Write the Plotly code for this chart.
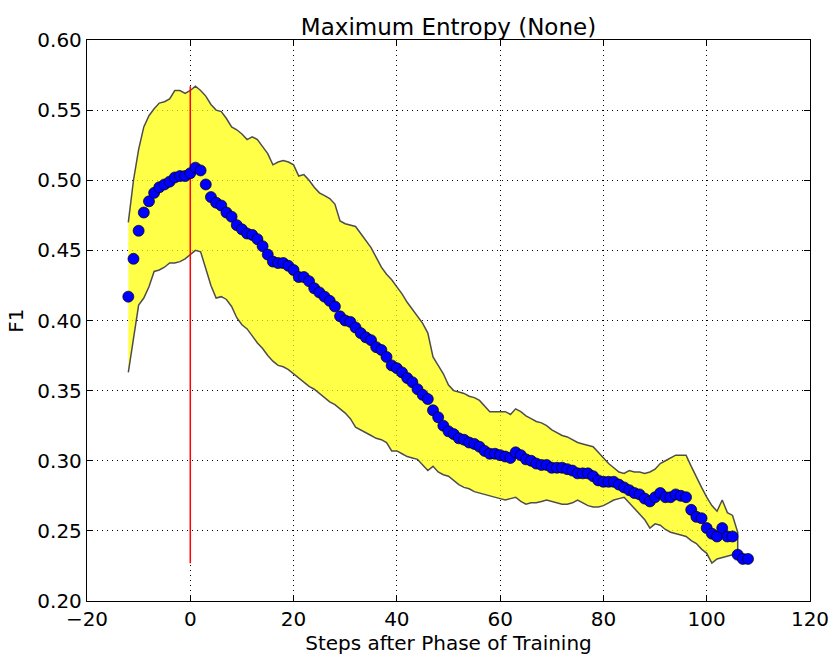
import plotly.graph_objects as go

steps = list(range(-12, 109))
f1_mean = [
    0.417, 0.444, 0.464, 0.477, 0.485, 0.491, 0.495, 0.497, 0.499, 0.502, 0.503, 0.503,
    0.505, 0.509, 0.507, 0.497, 0.488, 0.484, 0.482, 0.477, 0.474, 0.468, 0.465,
    0.462, 0.461, 0.458, 0.453, 0.447, 0.442, 0.441, 0.441, 0.439, 0.436,
    0.431, 0.431, 0.428, 0.423, 0.420, 0.417, 0.414, 0.410, 0.403, 0.400,
    0.399, 0.395, 0.391, 0.388, 0.386, 0.381, 0.379, 0.374, 0.368, 0.366,
    0.363, 0.359, 0.356, 0.351, 0.347, 0.344, 0.336, 0.331, 0.325, 0.321,
    0.319, 0.316, 0.315, 0.313, 0.312, 0.310, 0.307, 0.305, 0.305, 0.304,
    0.303, 0.302, 0.306, 0.304, 0.301, 0.300, 0.298, 0.297, 0.297, 0.295,
    0.295, 0.295, 0.294, 0.293, 0.291, 0.291, 0.291, 0.289, 0.286, 0.285,
    0.285, 0.285, 0.283, 0.281, 0.279, 0.277, 0.276, 0.273, 0.271, 0.274,
    0.277, 0.274, 0.274, 0.276, 0.275, 0.274, 0.265, 0.260, 0.259, 0.252,
    0.248, 0.246, 0.252, 0.246, 0.246, 0.233, 0.230, 0.230,
]

band_steps = list(range(-12, 107))
f1_upper = [
    0.470, 0.500, 0.522, 0.538, 0.546, 0.551, 0.555, 0.556, 0.558, 0.564, 0.564, 0.562,
    0.564, 0.567, 0.564, 0.560, 0.554, 0.550, 0.549, 0.544, 0.538, 0.536, 0.533,
    0.529, 0.531, 0.529, 0.524, 0.519, 0.511, 0.513, 0.514, 0.513, 0.511,
    0.503, 0.504, 0.500, 0.495, 0.491, 0.489, 0.487, 0.483, 0.471, 0.469,
    0.468, 0.467, 0.462, 0.457, 0.452, 0.445, 0.438, 0.433, 0.429, 0.424,
    0.419, 0.413, 0.408, 0.403, 0.398, 0.391, 0.374, 0.368, 0.362, 0.354,
    0.350, 0.349, 0.348, 0.346, 0.345, 0.343, 0.339, 0.335, 0.335, 0.335,
    0.335, 0.333, 0.337, 0.335, 0.332, 0.330, 0.328, 0.327, 0.325, 0.322,
    0.320, 0.318, 0.317, 0.315, 0.313, 0.312, 0.311, 0.310, 0.306, 0.302,
    0.298, 0.295, 0.292, 0.291, 0.293, 0.292, 0.292, 0.291, 0.292, 0.294,
    0.298, 0.300, 0.302, 0.304, 0.304, 0.304, 0.296, 0.288, 0.281, 0.274,
    0.268, 0.264, 0.272, 0.263, 0.261, 0.249,
]
f1_lower = [
    0.363, 0.387, 0.411, 0.416, 0.424, 0.435, 0.436, 0.438, 0.441, 0.441, 0.442, 0.444,
    0.447, 0.450, 0.449, 0.437, 0.425, 0.416, 0.417, 0.415, 0.410, 0.402, 0.397,
    0.394, 0.389, 0.384, 0.380, 0.375, 0.371, 0.368, 0.367, 0.365, 0.362,
    0.359, 0.356, 0.353, 0.351, 0.348, 0.345, 0.342, 0.340, 0.337, 0.334,
    0.330, 0.324, 0.322, 0.320, 0.318, 0.316, 0.315, 0.313, 0.307, 0.307,
    0.305, 0.303, 0.302, 0.301, 0.297, 0.293, 0.296, 0.292, 0.290, 0.289,
    0.286, 0.283, 0.281, 0.280, 0.278, 0.277, 0.276, 0.275, 0.274, 0.273,
    0.272, 0.273, 0.274, 0.271, 0.269, 0.270, 0.270, 0.271, 0.272, 0.271,
    0.270, 0.269, 0.269, 0.270, 0.272, 0.270, 0.268, 0.267, 0.267, 0.268,
    0.270, 0.272, 0.273, 0.274, 0.270, 0.266, 0.262, 0.258, 0.252, 0.255,
    0.254, 0.251, 0.249, 0.248, 0.247, 0.246, 0.243, 0.241, 0.237, 0.234,
    0.227, 0.230, 0.231, 0.232, 0.233, 0.233,
]

x_ticks = [-20, 0, 20, 40, 60, 80, 100, 120]
y_ticks = [0.20, 0.25, 0.30, 0.35, 0.40, 0.45, 0.50, 0.55, 0.60]

FONT = "DejaVu Sans, Verdana, sans-serif"

fig = go.Figure()

fig.add_trace(go.Scatter(
    x=band_steps + band_steps[::-1],
    y=f1_upper + f1_lower[::-1],
    fill="toself",
    fillcolor="rgba(255,255,0,0.72)",
    line=dict(color="#4d4d4d", width=1.5),
    mode="lines",
    hoverinfo="skip",
    showlegend=False,
))

fig.add_trace(go.Scatter(
    x=[0, 0],
    y=[min(f1_lower), max(f1_upper)],
    mode="lines",
    line=dict(color="red", width=1.5),
    showlegend=False,
))

fig.add_trace(go.Scatter(
    x=steps,
    y=f1_mean,
    mode="markers",
    marker=dict(color="#0000ff", size=11, line=dict(color="black", width=0.7)),
    showlegend=False,
))

axis_common = dict(
    showline=True, linecolor="black", linewidth=1.3, mirror="ticks",
    ticks="inside", ticklen=6, tickcolor="black", tickwidth=1,
    showgrid=True, gridcolor="black", gridwidth=1, griddash="1px,4px",
    zeroline=False, tickfont=dict(size=20, color="black", family=FONT),
    automargin=False,
)

fig.update_xaxes(
    range=[-20, 120], tickvals=x_ticks,
    ticktext=[str(v).replace("-", "\u2212") for v in x_ticks],
    title=dict(text="Steps after Phase of Training", font=dict(size=20, family=FONT, color="black"), standoff=6),
    **axis_common,
)
fig.update_yaxes(
    range=[0.20, 0.60], tickvals=y_ticks, ticktext=[f"{v:.2f}" for v in y_ticks],
    title=dict(text="F1", font=dict(size=20, family=FONT, color="black"), standoff=8),
    **axis_common,
)

fig.update_layout(
    width=830, height=655,
    margin=dict(l=87, r=20, t=40, b=54, autoexpand=False),
    paper_bgcolor="white", plot_bgcolor="white",
    title=dict(text="Maximum Entropy (None)", x=0.5, xanchor="center", xref="paper",
               y=1, yref="paper", yanchor="bottom", pad=dict(b=5),
               font=dict(size=23, family=FONT, color="black")),
    font=dict(family=FONT, color="black"),
)

fig.write_html("out.html")
